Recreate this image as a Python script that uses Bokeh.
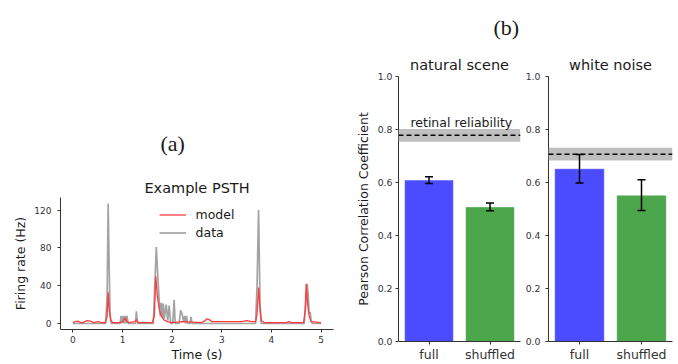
from bokeh.plotting import figure
from bokeh.models import (Range1d, FactorRange, FixedTicker, NumeralTickFormatter, Whisker, Title,
                          ColumnDataSource, BoxAnnotation, Span, Label, Legend, LegendItem, TeeHead)
from bokeh.layouts import row, column
from bokeh.embed import file_html
from bokeh.resources import INLINE

FONT = "DejaVu Sans"
SERIF = "Liberation Serif"

# ---------------- Panel (a): example PSTH ----------------
data_t = [0.00, 0.60, 0.66, 0.69, 0.71, 0.73, 0.75, 0.77, 0.95, 0.97, 0.99, 1.01, 1.03, 1.05,
          1.07, 1.09, 1.11, 1.26, 1.28, 1.30, 1.62, 1.65, 1.68, 1.71, 1.74, 1.76, 1.78, 1.80,
          1.82, 1.84, 1.88, 1.91, 1.94, 1.97, 2.01, 2.04, 2.06, 2.14, 2.17, 2.20, 2.23, 2.25,
          2.27, 2.29, 2.31, 2.36, 2.38, 2.40, 3.68, 3.71, 3.74, 3.77, 3.79, 4.66, 4.69, 4.72,
          4.74, 4.76, 4.78, 4.80, 4.83, 5.00]
data_v = [0, 0, 0, 30, 127, 60, 10, 0, 0, 8, 0, 8, 0, 8,
          0, 8, 0, 0, 13, 0, 0, 40, 81, 50, 23, 8, 22, 6,
          21, 5, 20, 3, 19, 0, 0, 25, 0, 0, 14, 10, 2, 8,
          0, 8, 0, 0, 7, 0, 0, 40, 120, 20, 0, 0, 20, 42,
          30, 10, 12, 2, 0, 0]

model_t = [0.00, 0.05, 0.10, 0.15, 0.20, 0.28, 0.35, 0.42, 0.50, 0.58, 0.65, 0.69, 0.71, 0.73,
           0.76, 0.80, 0.95, 1.00, 1.05, 1.08, 1.12, 1.25, 1.28, 1.32, 1.40, 1.60, 1.64, 1.67,
           1.70, 1.74, 1.78, 1.83, 1.90, 2.00, 2.20, 2.40, 2.60, 2.66, 2.70, 2.75, 2.80, 3.00,
           3.20, 3.40, 3.50, 3.60, 3.68, 3.71, 3.74, 3.77, 3.80, 3.85, 4.30, 4.35, 4.40, 4.65,
           4.68, 4.70, 4.73, 4.76, 4.80, 5.00]
model_v = [1, 2, 2.5, 1, 1, 3, 2.5, 1, 2, 1, 1, 8, 33, 15,
           4, 1, 1, 2, 6, 3, 1, 2, 4, 1, 1, 1, 8, 50,
           30, 15, 8, 4, 2, 1, 2, 1.5, 1, 3, 5, 4, 2, 2,
           2, 2, 3, 2, 2, 10, 38, 15, 3, 1, 1, 2, 1, 1,
           15, 42, 20, 8, 2, 1]

psth_xticks = [0, 1, 2, 3, 4, 5]
psth_yticks = [0, 40, 80, 120]

# ---------------- Panel (b): correlation bars ----------------
conditions = ["full", "shuffled"]
bar_colors = ["#4b4bff", "#4ca64c"]
natural_r = [0.609, 0.508]
natural_err = [0.013, 0.015]
noise_r = [0.652, 0.552]
noise_err = [0.054, 0.058]
natural_reliability = 0.778
natural_reliability_sd = 0.024
noise_reliability = 0.707
noise_reliability_sd = 0.024
corr_ticks = [0, 0.2, 0.4, 0.6, 0.8, 1.0]

H = 364


def style_axis(ax, tick_size):
    ax.axis_line_color = "#333333"
    ax.axis_line_width = 1
    ax.major_tick_line_color = "#333333"
    ax.minor_tick_line_color = None
    ax.major_tick_out = 3
    ax.major_tick_in = 0
    ax.major_label_text_font = FONT
    ax.major_label_text_font_size = tick_size
    ax.major_label_text_color = "#333333"
    ax.axis_label_text_font = FONT
    ax.axis_label_text_font_style = "normal"
    ax.axis_label_text_font_size = "12.5px"
    ax.axis_label_text_color = "#1a1a1a"


def base_fig(width, x_range, y_range, left, right, top, bottom):
    p = figure(width=width, height=H, x_range=x_range, y_range=y_range, title=None,
               output_backend="svg", toolbar_location=None,
               min_border_left=left, min_border_right=right,
               min_border_top=top, min_border_bottom=bottom)
    p.outline_line_color = None
    p.xgrid.grid_line_color = None
    p.ygrid.grid_line_color = None
    p.background_fill_color = "white"
    p.border_fill_color = "white"
    return p


def add_title(p, text, font, size, standoff, align="center", offset=0):
    p.add_layout(Title(text=text, align=align, offset=offset, standoff=standoff,
                       text_font=font, text_font_size=size, text_font_style="normal",
                       text_color="#1a1a1a"), "above")


# Panel (a)
pa = base_fig(352, Range1d(-0.25, 5.25), Range1d(-6.35, 133.35), 60, 19, 197, 34)
style_axis(pa.xaxis[0], "9px")
style_axis(pa.yaxis[0], "9px")
pa.xaxis[0].ticker = FixedTicker(ticks=psth_xticks)
pa.yaxis[0].ticker = FixedTicker(ticks=psth_yticks)
pa.xaxis[0].axis_label = "Time (s)"
pa.yaxis[0].axis_label = "Firing rate (Hz)"
pa.xaxis[0].major_label_standoff = 3
pa.xaxis[0].axis_label_standoff = 1
pa.yaxis[0].major_label_standoff = 6
pa.yaxis[0].axis_label_standoff = 3

r_data = pa.line(data_t, data_v, line_color="#a3a3a3", line_width=1.7)
r_model = pa.line(model_t, model_v, line_color="#ff3b3b", line_width=1.3)

legend = Legend(items=[LegendItem(label="model", renderers=[r_model]),
                       LegendItem(label="data", renderers=[r_data])],
                location="top_center", margin=10, padding=10, spacing=3,
                glyph_width=27, glyph_height=15, label_height=15, label_standoff=10,
                label_text_font=FONT, label_text_font_size="12.5px",
                label_text_color="#1a1a1a",
                border_line_color=None, background_fill_alpha=0)
pa.add_layout(legend, "center")

add_title(pa, "Example PSTH", FONT, "14.5px", 4)
add_title(pa, "(a)", SERIF, "22px", 39, align="left", offset=100)


def bar_panel(width, left, right, values, errs, rel, rel_sd, ylabel):
    p = base_fig(width, FactorRange(factors=conditions, range_padding=0),
                 Range1d(0, 1), left, right, 76, 21)
    style_axis(p.xaxis[0], "12.5px")
    style_axis(p.yaxis[0], "9.3px")
    p.xaxis[0].major_label_standoff = 2
    p.yaxis[0].ticker = FixedTicker(ticks=corr_ticks)
    p.yaxis[0].formatter = NumeralTickFormatter(format="0.0")
    if ylabel:
        p.yaxis[0].major_label_standoff = 3
        p.yaxis[0].axis_label = ylabel
        p.yaxis[0].axis_label_standoff = 4
    else:
        p.yaxis[0].major_label_standoff = 5

    src = ColumnDataSource(dict(cond=conditions, r=values, color=bar_colors,
                                upper=[v + e for v, e in zip(values, errs)],
                                lower=[v - e for v, e in zip(values, errs)]))
    p.vbar(x="cond", top="r", width=0.8, fill_color="color", line_color="white",
           line_alpha=0.45, line_width=1, source=src)

    p.add_layout(BoxAnnotation(bottom=rel - rel_sd, top=rel + rel_sd, fill_color="#bfbfbf",
                               fill_alpha=1, line_color=None))
    p.add_layout(Span(location=rel, dimension="width", line_color="black",
                      line_dash="5 3", line_width=1.5))
    w = Whisker(base="cond", upper="upper", lower="lower", source=src,
                line_color="black", line_width=1.5, level="annotation",
                upper_head=TeeHead(size=8, line_color="black", line_width=1.5),
                lower_head=TeeHead(size=8, line_color="black", line_width=1.5))
    p.add_layout(w)
    return p


pb1 = bar_panel(170, 42, 2, natural_r, natural_err, natural_reliability,
                natural_reliability_sd, "Pearson Correlation Coefficient")
add_title(pb1, "natural scene", FONT, "14.5px", 8)
add_title(pb1, "(b)", SERIF, "22px", 22, align="left", offset=95)
pb1.add_layout(Label(x=1.03, y=(343 - 122.5) / 267, text="retinal reliability",
                     text_align="center", text_baseline="alphabetic",
                     text_font=FONT, text_font_size="12.5px", text_color="#1a1a1a"))

pb2 = bar_panel(156, 23, 6, noise_r, noise_err, noise_reliability,
                noise_reliability_sd, None)
add_title(pb2, "white noise", FONT, "14.5px", 8)

layout = row(column(pa), column(pb1), column(pb2))
open("out.html", "w").write(file_html(layout, INLINE))
